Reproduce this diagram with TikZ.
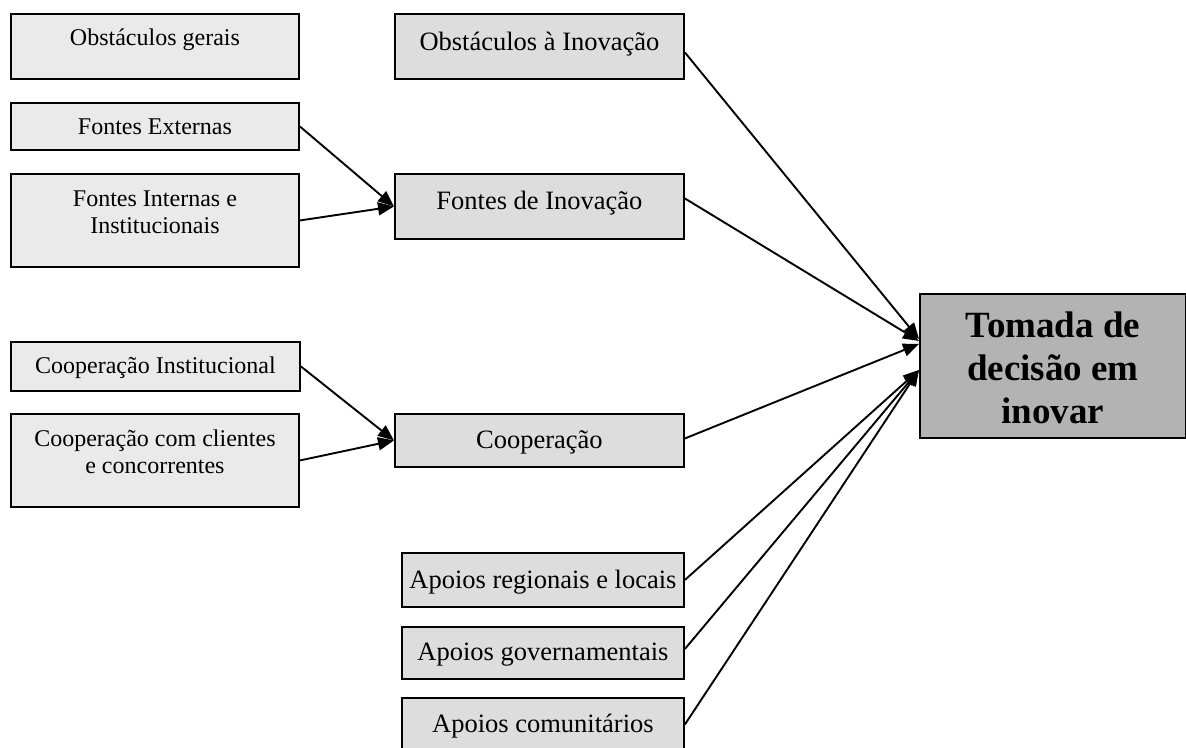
\documentclass[tikz,border=0pt]{standalone}
\usepackage{fontspec}
\setmainfont{Liberation Serif}
\usetikzlibrary{arrows.meta,calc}
\definecolor{srcfill}{HTML}{EAEAEA}
\definecolor{midfill}{HTML}{DDDDDD}
\definecolor{decfill}{HTML}{B3B3B3}
\begin{document}
\begin{tikzpicture}[x=1pt,y=-1pt,
  box/.style={draw=black, line width=1.9pt, inner sep=0pt, anchor=north west},
  srcbox/.style={box, fill=srcfill},
  midbox/.style={box, fill=midfill},
  srctext/.style={anchor=base, align=center, inner sep=0pt, font=\fontsize{24}{27}\selectfont},
  midtext/.style={anchor=base, align=center, inner sep=0pt, font=\fontsize{26.5}{29}\selectfont},
  dectext/.style={anchor=base, align=center, inner sep=0pt, font=\fontsize{37}{43}\selectfont\bfseries},
  link/.style={line width=1.9pt, -{Triangle[length=16pt,width=13pt]}}
]
\useasboundingbox (0,0) rectangle (1186,747);
\fill[white] (0,0) rectangle (1186,747);
\clip (0,0) rectangle (1186,747);

% left column: individual factors
\node[srcbox, minimum width=288, minimum height=65] (og) at (10,13) {};
\node[srcbox, minimum width=288, minimum height=47] (fe) at (10,102) {};
\node[srcbox, minimum width=288, minimum height=93] (fint) at (10,173) {};
\node[srcbox, minimum width=289, minimum height=49] (ci) at (10,341) {};
\node[srcbox, minimum width=288, minimum height=93] (cc) at (10,413) {};

% text baselines (base anchor sits on the last line)
\node[srctext] (tog) at ($(og.north)+(0,32)$) {Obstáculos gerais};
\node[srctext] (tfe) at ($(fe.north)+(0,32)$) {Fontes Externas};
\node[srctext] (tfint) at ($(fint.north)+(0,60)$) {Fontes Internas e\\Institucionais};
\node[srctext] (tci) at ($(ci.north)+(0,32)$) {Cooperação Institucional};
\node[srctext] (tcc) at ($(cc.north)+(0,60)$) {Cooperação com clientes\\e concorrentes};

% middle column: grouped determinants
\node[midbox, minimum width=289, minimum height=65] (oi) at (394,13) {};
\node[midbox, minimum width=289, minimum height=65] (fin) at (394,173) {};
\node[midbox, minimum width=289, minimum height=53] (coop) at (394,413) {};
\node[midbox, minimum width=282, minimum height=54] (ar) at (401,552) {};
\node[midbox, minimum width=282, minimum height=52] (ag) at (401,626) {};
\node[midbox, minimum width=282, minimum height=53] (ac) at (401,697) {};

\node[midtext] (toi) at ($(oi.north)+(0,37)$) {Obstáculos à Inovação};
\node[midtext] (tfin) at ($(fin.north)+(0,36)$) {Fontes de Inovação};
\node[midtext] (tcoop) at ($(coop.north)+(0,35)$) {Cooperação};
\node[midtext] (tar) at ($(ar.north)+(0,36)$) {Apoios regionais e locais};
\node[midtext] (tag) at ($(ag.north)+(0,34)$) {Apoios governamentais};
\node[midtext] (tac) at ($(ac.north)+(0,35)$) {Apoios comunitários};

% decision box
\node[box, fill=decfill, minimum width=266, minimum height=144] (dec) at (919,293) {};
\node[dectext] (tdec) at ($(dec.north)+(0,130)$) {Tomada de\\decisão em\\inovar};

% connectors
\draw[link] (fe.east) -- (fin.west);
\draw[link] (fint.east) -- (fin.west);
\draw[link] (ci.east) -- (coop.west);
\draw[link] (cc.east) -- (coop.west);

\draw[link] ($(oi.east)+(0,6)$) -- ($(dec.west)+(0,-27)$);
\draw[link] ($(fin.east)+(0,-8)$) -- ($(dec.west)+(0,-25)$);
\draw[link] ($(coop.east)+(0,-2)$) -- ($(dec.west)+(0,-22)$);
\draw[link] (ar.east) -- ($(dec.west)+(0,4)$);
\draw[link] ($(ag.east)+(0,-4)$) -- ($(dec.west)+(0,4)$);
\draw[link] (ac.east) -- ($(dec.west)+(0,4)$);
\end{tikzpicture}
\end{document}
